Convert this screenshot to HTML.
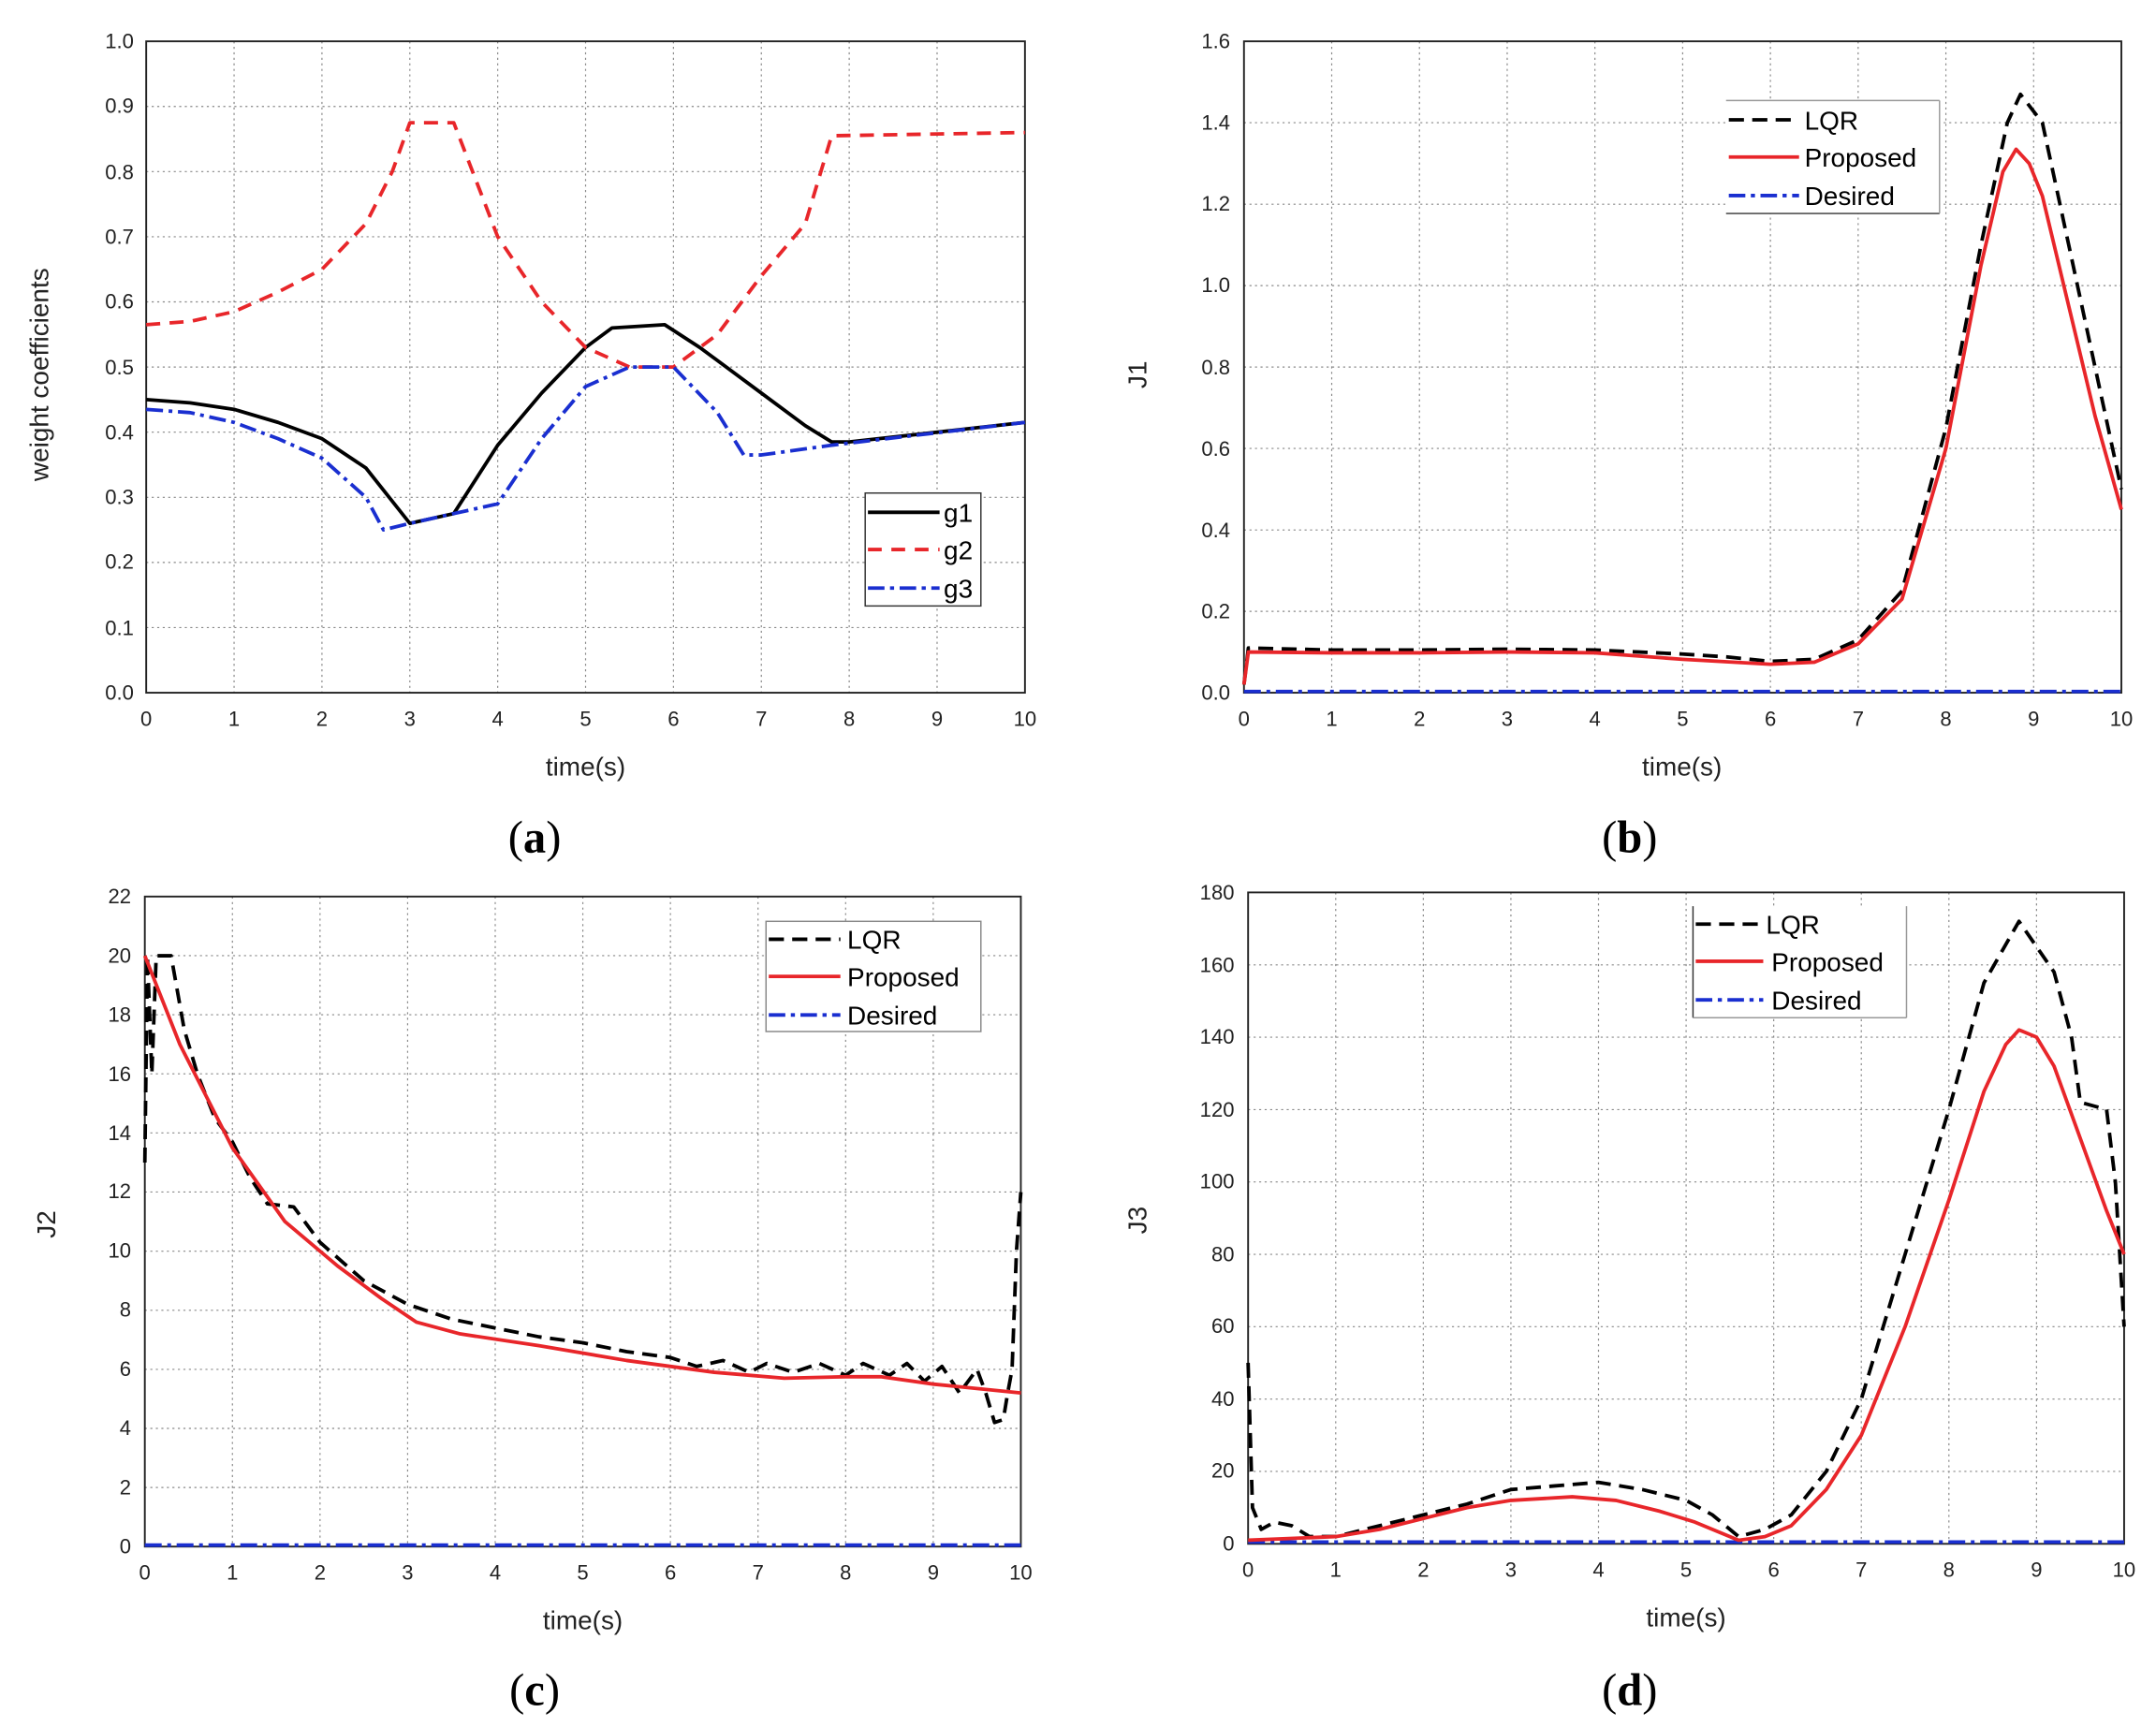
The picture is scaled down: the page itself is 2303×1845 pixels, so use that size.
<!DOCTYPE html>
<html><head><meta charset="utf-8"><style>
html,body{margin:0;padding:0;background:#fff}
svg{display:block}
text{font-family:"Liberation Sans",sans-serif;fill:#222}
.t{font-size:15px}
.ti{font-size:19px}
.cap{font-family:"Liberation Serif",serif;font-size:33px;fill:#000}
.g{stroke:#888;stroke-width:0.8;stroke-dasharray:1.5 2.5;fill:none}
.fr{fill:none;stroke:#222;stroke-width:1.3}
.s{fill:none;stroke-width:3.8;vector-effect:non-scaling-stroke;stroke-linejoin:round}
.dd{stroke-dasharray:16 9}
.rd{stroke-dasharray:15 10}
.dc{stroke-dasharray:18 6 4 6}
.lg{font-size:19px;fill:#000}
</style></head><body>
<svg width="2303" height="1845" viewBox="0 0 1565 1254" xmlns="http://www.w3.org/2000/svg">

<!-- ========== Panel (a) ========== -->
<g>
<path class="g" d="M169.8 30V503M233.6 30V503M297.4 30V503M361.2 30V503M425 30V503M488.8 30V503M552.6 30V503M616.4 30V503M680.2 30V503
M106 455.7H744M106 408.4H744M106 361.1H744M106 313.8H744M106 266.5H744M106 219.2H744M106 171.9H744M106 124.6H744M106 77.3H744"/>
<rect class="fr" x="106" y="30" width="638" height="473"/>
<g transform="translate(106,503) scale(63.8,-473)">
<polyline class="s" stroke="#000" points="0,0.45 0.5,0.445 1,0.435 1.5,0.415 2,0.39 2.5,0.345 3,0.26 3.5,0.275 4,0.38 4.5,0.46 5,0.53 5.3,0.56 5.9,0.565 6.3,0.53 7,0.46 7.5,0.41 7.8,0.385 8,0.385 10,0.415"/>
<polyline class="s rd" stroke="#e8262a" points="0,0.565 0.5,0.57 1,0.585 1.5,0.615 2,0.65 2.5,0.72 2.8,0.8 3,0.875 3.5,0.875 4,0.7 4.5,0.6 5,0.53 5.5,0.5 6,0.5 6.5,0.55 7,0.64 7.5,0.72 7.8,0.855 10,0.86"/>
<polyline class="s dc" stroke="#1a2fd0" points="0,0.435 0.5,0.43 1,0.415 1.5,0.39 2,0.36 2.5,0.3 2.7,0.25 3,0.26 3.5,0.275 4,0.29 4.5,0.39 5,0.47 5.5,0.5 6,0.5 6.5,0.43 6.8,0.365 7,0.365 7.8,0.38 10,0.415"/>
</g>
<g class="t" text-anchor="end">
<text x="97" y="508">0.0</text><text x="97" y="461">0.1</text><text x="97" y="413">0.2</text><text x="97" y="366">0.3</text><text x="97" y="319">0.4</text><text x="97" y="272">0.5</text><text x="97" y="224">0.6</text><text x="97" y="177">0.7</text><text x="97" y="130">0.8</text><text x="97" y="82">0.9</text><text x="97" y="35">1.0</text>
</g>
<g class="t" text-anchor="middle">
<text x="106" y="527">0</text><text x="169.8" y="527">1</text><text x="233.6" y="527">2</text><text x="297.4" y="527">3</text><text x="361.2" y="527">4</text><text x="425" y="527">5</text><text x="488.8" y="527">6</text><text x="552.6" y="527">7</text><text x="616.4" y="527">8</text><text x="680.2" y="527">9</text><text x="744" y="527">10</text>
</g>
<text class="ti" x="425" y="563" text-anchor="middle">time(s)</text>
<text class="ti" transform="translate(35,272) rotate(-90)" text-anchor="middle">weight coefficients</text>
<rect x="628" y="358" width="84" height="82" fill="#fff" stroke="#333" stroke-width="1"/>
<line x1="630" y1="372" x2="682" y2="372" stroke="#000" stroke-width="2.6"/>
<line x1="630" y1="399" x2="682" y2="399" stroke="#e8262a" stroke-width="2.6" stroke-dasharray="10 7"/>
<line x1="630" y1="427" x2="682" y2="427" stroke="#1a2fd0" stroke-width="2.6" stroke-dasharray="12 4 3 4"/>
<text class="lg" x="685" y="379">g1</text><text class="lg" x="685" y="406">g2</text><text class="lg" x="685" y="434">g3</text>
<text class="cap" x="388" y="619" text-anchor="middle">(<tspan font-weight="bold">a</tspan>)</text>
</g>

<!-- ========== Panel (b) ========== -->
<g>
<path class="g" d="M966.7 30V503M1030.4 30V503M1094.1 30V503M1157.8 30V503M1221.5 30V503M1285.2 30V503M1348.9 30V503M1412.6 30V503M1476.3 30V503
M903 443.9H1540M903 384.8H1540M903 325.6H1540M903 266.5H1540M903 207.4H1540M903 148.3H1540M903 89.1H1540"/>
<rect class="fr" x="903" y="30" width="637" height="473"/>
<g transform="translate(903,503) scale(63.7,-295.6)">
<polyline class="s dc" stroke="#1a2fd0" points="0,0.003 10,0.003"/>
<polyline class="s dd" stroke="#000" points="0,0.02 0.05,0.11 1,0.105 2,0.105 3,0.107 4,0.105 4.5,0.1 5,0.095 5.5,0.088 6,0.077 6.5,0.082 7,0.13 7.5,0.25 8,0.65 8.4,1.1 8.7,1.4 8.85,1.47 9.1,1.4 9.4,1.1 9.7,0.8 10,0.5"/>
<polyline class="s" stroke="#e8262a" points="0,0.02 0.05,0.1 1,0.098 2,0.098 3,0.1 4,0.098 4.5,0.09 5,0.082 5.5,0.076 6,0.07 6.5,0.075 7,0.12 7.5,0.23 8,0.6 8.4,1.05 8.65,1.28 8.8,1.335 8.95,1.3 9.1,1.22 9.4,0.95 9.7,0.68 10,0.45"/>
</g>
<g class="t" text-anchor="end">
<text x="893" y="508">0.0</text><text x="893" y="449">0.2</text><text x="893" y="390">0.4</text><text x="893" y="331">0.6</text><text x="893" y="272">0.8</text><text x="893" y="212">1.0</text><text x="893" y="153">1.2</text><text x="893" y="94">1.4</text><text x="893" y="35">1.6</text>
</g>
<g class="t" text-anchor="middle">
<text x="903" y="527">0</text><text x="966.7" y="527">1</text><text x="1030.4" y="527">2</text><text x="1094.1" y="527">3</text><text x="1157.8" y="527">4</text><text x="1221.5" y="527">5</text><text x="1285.2" y="527">6</text><text x="1348.9" y="527">7</text><text x="1412.6" y="527">8</text><text x="1476.3" y="527">9</text><text x="1540" y="527">10</text>
</g>
<text class="ti" x="1221" y="563" text-anchor="middle">time(s)</text>
<text class="ti" transform="translate(832,272) rotate(-90)" text-anchor="middle">J1</text>
<rect x="1253" y="73" width="155" height="82" fill="#fff" stroke="none"/>
<line x1="1253" y1="73" x2="1408" y2="73" stroke="#999"/><line x1="1253" y1="155" x2="1408" y2="155" stroke="#333"/><line x1="1408" y1="73" x2="1408" y2="155" stroke="#999"/>
<line x1="1255" y1="87" x2="1306" y2="87" stroke="#000" stroke-width="2.6" stroke-dasharray="11 6"/>
<line x1="1255" y1="114" x2="1306" y2="114" stroke="#e8262a" stroke-width="2.6"/>
<line x1="1255" y1="142" x2="1306" y2="142" stroke="#1a2fd0" stroke-width="2.6" stroke-dasharray="12 4 3 4"/>
<text class="lg" x="1310" y="94">LQR</text><text class="lg" x="1310" y="121">Proposed</text><text class="lg" x="1310" y="149">Desired</text>
<text class="cap" x="1183" y="619" text-anchor="middle">(<tspan font-weight="bold">b</tspan>)</text>
</g>

<!-- ========== Panel (c) ========== -->
<g>
<path class="g" d="M168.6 651V1123M232.2 651V1123M295.8 651V1123M359.4 651V1123M423 651V1123M486.6 651V1123M550.2 651V1123M613.8 651V1123M677.4 651V1123
M105 1080.1H741M105 1037.2H741M105 994.3H741M105 951.4H741M105 908.5H741M105 865.5H741M105 822.6H741M105 779.7H741M105 736.8H741M105 693.9H741"/>
<rect class="fr" x="105" y="651" width="636" height="472"/>
<g transform="translate(105,1123) scale(63.6,-21.45)">
<polyline class="s dc" stroke="#1a2fd0" points="0,0.05 10,0.05"/>
<polyline class="s dd" stroke="#000" points="0,13 0.03,20 0.08,16 0.13,20 0.3,20 0.45,17.5 0.6,16 0.8,14.5 1,13.7 1.2,12.5 1.4,11.6 1.7,11.5 2,10.3 2.5,9 3,8.2 3.5,7.7 4,7.4 4.5,7.1 5,6.9 5.5,6.6 6,6.4 6.3,6.1 6.6,6.3 6.9,5.9 7.1,6.2 7.4,5.9 7.7,6.2 8,5.8 8.2,6.2 8.5,5.8 8.7,6.2 8.9,5.6 9.1,6.1 9.3,5.2 9.5,6 9.6,5.2 9.7,4.2 9.8,4.3 9.85,5.2 9.9,6 9.95,10 10,12"/>
<polyline class="s" stroke="#e8262a" points="0,20 0.4,17 1,13.5 1.6,11 2.2,9.5 2.7,8.4 3.1,7.6 3.6,7.2 4.5,6.8 5.5,6.3 6.5,5.9 7.3,5.7 8,5.75 8.4,5.75 9,5.5 10,5.2"/>
</g>
<g class="t" text-anchor="end">
<text x="95" y="1128">0</text><text x="95" y="1085">2</text><text x="95" y="1042">4</text><text x="95" y="999">6</text><text x="95" y="956">8</text><text x="95" y="913">10</text><text x="95" y="870">12</text><text x="95" y="828">14</text><text x="95" y="785">16</text><text x="95" y="742">18</text><text x="95" y="699">20</text><text x="95" y="656">22</text>
</g>
<g class="t" text-anchor="middle">
<text x="105" y="1147">0</text><text x="168.6" y="1147">1</text><text x="232.2" y="1147">2</text><text x="295.8" y="1147">3</text><text x="359.4" y="1147">4</text><text x="423" y="1147">5</text><text x="486.6" y="1147">6</text><text x="550.2" y="1147">7</text><text x="613.8" y="1147">8</text><text x="677.4" y="1147">9</text><text x="741" y="1147">10</text>
</g>
<text class="ti" x="423" y="1183" text-anchor="middle">time(s)</text>
<text class="ti" transform="translate(40,889) rotate(-90)" text-anchor="middle">J2</text>
<rect x="556" y="669" width="156" height="80" fill="#fff" stroke="#888" stroke-width="1"/>
<line x1="558" y1="682" x2="610" y2="682" stroke="#000" stroke-width="2.6" stroke-dasharray="11 6"/>
<line x1="558" y1="709" x2="610" y2="709" stroke="#e8262a" stroke-width="2.6"/>
<line x1="558" y1="737" x2="610" y2="737" stroke="#1a2fd0" stroke-width="2.6" stroke-dasharray="12 4 3 4"/>
<text class="lg" x="615" y="689">LQR</text><text class="lg" x="615" y="716">Proposed</text><text class="lg" x="615" y="744">Desired</text>
<text class="cap" x="388" y="1238" text-anchor="middle">(<tspan font-weight="bold">c</tspan>)</text>
</g>

<!-- ========== Panel (d) ========== -->
<g>
<path class="g" d="M969.6 648V1121M1033.2 648V1121M1096.8 648V1121M1160.4 648V1121M1224 648V1121M1287.6 648V1121M1351.2 648V1121M1414.8 648V1121M1478.4 648V1121
M906 1068.4H1542M906 1015.9H1542M906 963.3H1542M906 910.8H1542M906 858.2H1542M906 805.7H1542M906 753.1H1542M906 700.6H1542"/>
<rect class="fr" x="906" y="648" width="636" height="473"/>
<g transform="translate(906,1121) scale(63.6,-2.628)">
<polyline class="s dc" stroke="#1a2fd0" points="0,0.5 10,0.5"/>
<polyline class="s dd" stroke="#000" points="0,50 0.05,10 0.15,4 0.3,6 0.5,5 0.7,2 1,2 1.5,5 2,8 2.5,11 3,15 3.5,16 4,17 4.5,15 5,12 5.3,8 5.6,2 5.9,4 6.2,8 6.6,20 7,40 7.5,80 8,120 8.4,155 8.8,172 9,165 9.2,158 9.4,140 9.5,122 9.8,120 9.9,100 10,60"/>
<polyline class="s" stroke="#e8262a" points="0,1 1,2 1.5,4 2,7 2.5,10 3,12 3.7,13 4.2,12 4.7,9 5.1,6 5.4,3 5.6,1 5.9,2 6.2,5 6.6,15 7,30 7.5,60 8,95 8.4,125 8.65,138 8.8,142 9,140 9.2,132 9.5,112 9.8,92 10,80"/>
</g>
<g class="t" text-anchor="end">
<text x="896" y="1126">0</text><text x="896" y="1073">20</text><text x="896" y="1021">40</text><text x="896" y="968">60</text><text x="896" y="916">80</text><text x="896" y="863">100</text><text x="896" y="811">120</text><text x="896" y="758">140</text><text x="896" y="706">160</text><text x="896" y="653">180</text>
</g>
<g class="t" text-anchor="middle">
<text x="906" y="1145">0</text><text x="969.6" y="1145">1</text><text x="1033.2" y="1145">2</text><text x="1096.8" y="1145">3</text><text x="1160.4" y="1145">4</text><text x="1224" y="1145">5</text><text x="1287.6" y="1145">6</text><text x="1351.2" y="1145">7</text><text x="1414.8" y="1145">8</text><text x="1478.4" y="1145">9</text><text x="1542" y="1145">10</text>
</g>
<text class="ti" x="1224" y="1181" text-anchor="middle">time(s)</text>
<text class="ti" transform="translate(832,886) rotate(-90)" text-anchor="middle">J3</text>
<rect x="1229" y="658" width="155" height="81" fill="#fff" stroke="none"/>
<line x1="1229" y1="658" x2="1229" y2="739" stroke="#333"/><line x1="1229" y1="739" x2="1384" y2="739" stroke="#999"/><line x1="1384" y1="658" x2="1384" y2="739" stroke="#999"/>
<line x1="1231" y1="671" x2="1280" y2="671" stroke="#000" stroke-width="2.6" stroke-dasharray="11 6"/>
<line x1="1231" y1="698" x2="1280" y2="698" stroke="#e8262a" stroke-width="2.6"/>
<line x1="1231" y1="726" x2="1280" y2="726" stroke="#1a2fd0" stroke-width="2.6" stroke-dasharray="12 4 3 4"/>
<text class="lg" x="1282" y="678">LQR</text><text class="lg" x="1286" y="705">Proposed</text><text class="lg" x="1286" y="733">Desired</text>
<text class="cap" x="1183" y="1238" text-anchor="middle">(<tspan font-weight="bold">d</tspan>)</text>
</g>
</svg>
</body></html>
